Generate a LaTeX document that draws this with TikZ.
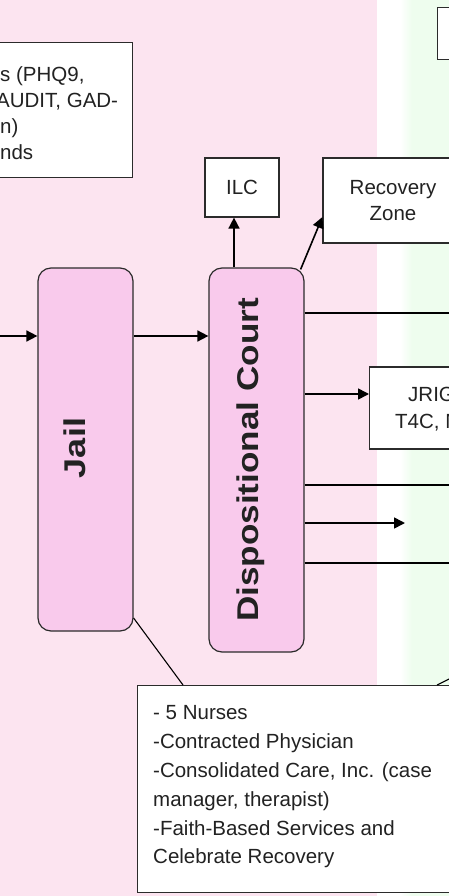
\documentclass[tikz,border=0pt]{standalone}
\usepackage{fontspec}
\setmainfont{Liberation Sans}
\usetikzlibrary{arrows.meta}
\definecolor{bgpink}{HTML}{FCE4F0}
\definecolor{bggreen}{HTML}{EEFDEE}
\definecolor{boxpink}{HTML}{F9CAEC}
\definecolor{edge}{HTML}{2B2B2B}
\definecolor{ink}{HTML}{222222}
\begin{document}
\begin{tikzpicture}[x=1pt,y=-1pt,
  box/.style={draw=edge, line width=1.2pt, fill=white, inner sep=0pt},
  stage/.style={draw=edge, line width=1.2pt, fill=boxpink, rounded corners=13pt, minimum width=95pt, inner sep=0pt},
  txt/.style={text=ink, font=\fontsize{20.5}{26}\selectfont, inner sep=0pt},
  vtxt/.style={text=ink, font=\fontsize{30}{30}\bfseries\selectfont, inner sep=0pt, rotate=90, anchor=base},
  conn/.style={draw=black, line width=1.6pt},
  arr/.style={conn, -{Triangle[length=11pt,width=11pt]}}]
\useasboundingbox (0,0) rectangle (449,896);
\clip (0,0) rectangle (449,896);
% background bands
\fill[bgpink] (0,0) rectangle (377,896);
\fill[white] (377,0) rectangle (400,896);
\shade[left color=white, right color=bggreen] (400,0) rectangle (412,896);
\fill[bggreen] (412,0) rectangle (449,896);

% boxes
\node[box, anchor=north east, minimum width=200pt, minimum height=135pt] (screen) at (133,42) {};
\node[txt, anchor=west, align=left] (screentxt) at (0,113) {s (PHQ9,\\\hspace*{-4pt}AUDIT, GAD-\\n)\\nds};

\node[box, anchor=north west, minimum width=50pt, minimum height=52pt] (topr) at (437,7) {};

\node[stage, minimum height=363pt] (jail) at (85.5,449.5) {};
\node[vtxt] (jailtxt) at (85,448) {\scalebox{1.2}[1]{Jail}};

\node[stage, minimum height=384pt] (court) at (256.5,460) {};
\node[vtxt] (courttxt) at (258,460) {\scalebox{1.17}[1]{Dispositional Court}};

\node[box, txt, minimum width=74pt, minimum height=59pt] (ilc) at (242,187.5) {ILC};
\node[box, txt, align=center, minimum width=140pt, minimum height=85pt] (rz) at (393,200.5) {Recovery\\Zone};

\node[box, anchor=west, minimum width=150pt, minimum height=82pt] (jrig) at (369,408) {};
\node[txt, anchor=west, align=left, font=\fontsize{20.5}{27}\selectfont] (jrigtxt) at (395,409.5) {\hspace*{13pt}JRIG\\T4C, M};

\node[box, anchor=north west, minimum width=330pt, minimum height=207pt] (staff) at (137,685) {};
\node[txt, anchor=west, align=left, font=\fontsize{20.5}{28.8}\selectfont] (stafftxt) at (153,787) {- 5 Nurses\\-Contracted Physician\\-Consolidated Care, Inc. (case\\manager, therapist)\\-Faith-Based Services and\\Celebrate Recovery};

% connectors
\coordinate (in) at (0,336);
\coordinate (r1) at (460,313);
\coordinate (r2) at (0,394);
\coordinate (r3) at (460,485);
\coordinate (r4) at (405,523);
\coordinate (r5) at (460,563);
\coordinate (out) at (461,673);

\draw[arr] (in) -- (jail.west |- in);
\draw[arr] (jail.east |- in) -- (court.west |- in);
\draw[arr] ([xshift=-22.5pt]court.north) -- ([xshift=-8pt]ilc.south);
\draw[arr] ([xshift=-4pt,yshift=-2pt]court.north east) -- ([yshift=-16.5pt]rz.west);
\draw[conn] (court.east |- r1) -- (r1);
\draw[arr] (court.east |- r2) -- (jrig.west |- r2);
\draw[conn] (court.east |- r3) -- (r3);
\draw[arr] (court.east |- r4) -- (r4);
\draw[conn] (court.east |- r5) -- (r5);
\draw[line width=1.1pt] ([yshift=-168.5pt]jail.east) -- ([xshift=46pt]staff.north west);
\draw[line width=1.1pt] ([xshift=300pt]staff.north west) -- (out);
\end{tikzpicture}
\end{document}
